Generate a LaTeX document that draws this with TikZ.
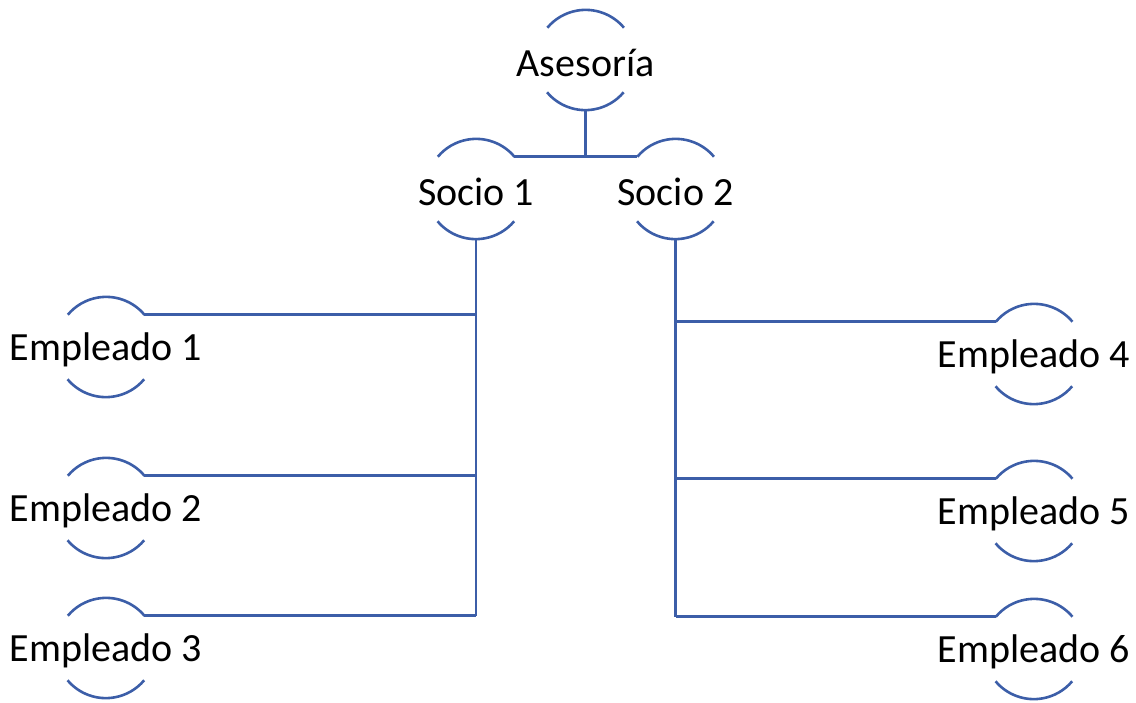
\documentclass[tikz,border=0pt]{standalone}
\usepackage{fontspec}
\setmainfont{Carlito}
\definecolor{orgblue}{RGB}{60,94,168}
\begin{document}
\begin{tikzpicture}[x=1pt,y=1pt,
  ring/.style={circle, minimum size=100pt, inner sep=0pt},
  persontext/.style={font=\fontsize{40}{48}\selectfont, text=black, yshift=-3pt},
  conn/.style={draw=orgblue, line width=2.6pt}]
\useasboundingbox (0,0) rectangle (1136,-702);

% people: a blank circle carries the name, only its top and bottom arcs are drawn
\node[ring, label={[persontext]center:Asesoría}] (as) at (585.5,-60) {};
\node[ring, label={[persontext]center:Socio 1}]  (s1) at (476,-189) {};
\node[ring, label={[persontext]center:Socio 2}]  (s2) at (675.5,-189) {};
\node[ring, label={[persontext]center:Empleado 1}] (e1) at (106,-347) {};
\node[ring, label={[persontext]center:Empleado 2}] (e2) at (106,-508) {};
\node[ring, label={[persontext]center:Empleado 3}] (e3) at (106,-648) {};
\node[ring, label={[persontext]center:Empleado 4}] (e4) at (1034,-354) {};
\node[ring, label={[persontext]center:Empleado 5}] (e5) at (1034,-511) {};
\node[ring, label={[persontext]center:Empleado 6}] (e6) at (1034,-649) {};

\foreach \n in {as,s1,s2,e1,e2,e3,e4,e5,e6}{
  \draw[conn] (\n.40) arc[start angle=40, end angle=140, radius=50pt];
  \draw[conn] (\n.220) arc[start angle=220, end angle=320, radius=50pt];
}

% Asesoría to both partners
\draw[conn] (as.south) -- (as.south |- s1.40);
\draw[conn] (s1.40) -- (s2.140);

% Socio 1 to its employees
\draw[conn] (s1.south) -- (s1.south |- e3.40);
\draw[conn] (e1.40) -- (e1.40 -| s1.south);
\draw[conn] (e2.40) -- (e2.40 -| s1.south);
\draw[conn] (e3.40) -- (e3.40 -| s1.south);

% Socio 2 to its employees
\draw[conn] (s2.south) -- (s2.south |- e6.140);
\draw[conn] (e4.140) -- (e4.140 -| s2.south);
\draw[conn] (e5.140) -- (e5.140 -| s2.south);
\draw[conn] (e6.140) -- (e6.140 -| s2.south);
\end{tikzpicture}
\end{document}
